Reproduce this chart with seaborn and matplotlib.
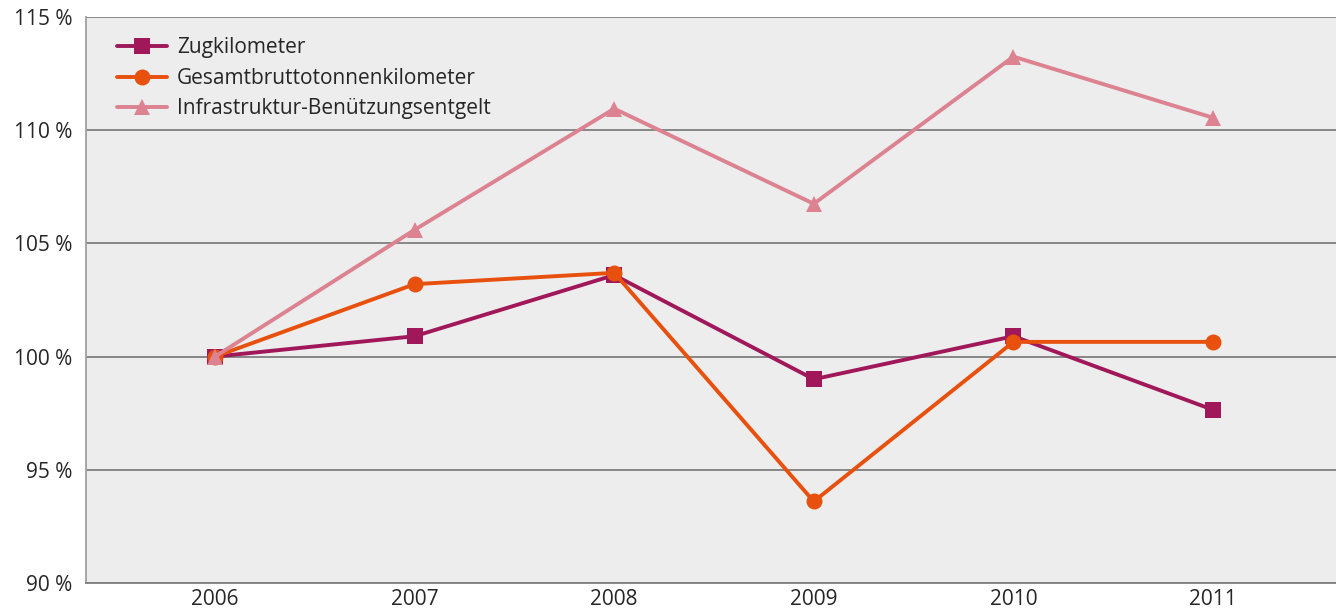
import pandas as pd
import matplotlib.pyplot as plt
import seaborn as sns

# values (index, 2006 = 100 %)
years = [2006, 2007, 2008, 2009, 2010, 2011]
zugkm = [100.0, 100.9, 103.6, 99.0, 100.9, 97.65]
gesamt_btkm = [100.0, 103.2, 103.7, 93.6, 100.65, 100.65]
infra_entgelt = [100.0, 105.6, 110.95, 106.75, 113.25, 110.55]

series_names = ["Zugkilometer", "Gesamtbruttotonnenkilometer",
                "Infrastruktur-Benützungsentgelt"]
y_ticks = [90, 95, 100, 105, 110, 115]

df = pd.DataFrame({
    "Jahr": years * 3,
    "Wert": zugkm + gesamt_btkm + infra_entgelt,
    "Reihe": [series_names[0]] * 6 + [series_names[1]] * 6 + [series_names[2]] * 6,
})

sns.set_style("white")
plt.rcParams["font.family"] = ["Open Sans", "DejaVu Sans"]

palette = {
    series_names[0]: "#A0185A",
    series_names[1]: "#E8500E",
    series_names[2]: "#DC8290",
}
markers = {series_names[0]: "s", series_names[1]: "o", series_names[2]: "^"}

fig = plt.figure(figsize=(13.36, 6.12), dpi=100)
ax = fig.add_axes([0.0644, 0.0474, 0.9356, 0.9248])
ax.set_facecolor("#EDEDED")

sns.lineplot(data=df, x="Jahr", y="Wert", hue="Reihe", style="Reihe",
             palette=palette, markers=markers, dashes=False,
             linewidth=2.8, markersize=11.5, markeredgewidth=0, ax=ax)

ax.set_xlim(2006 - 0.646, 2011 + 0.616)
ax.set_ylim(90, 115)
ax.set_xticks(years)
ax.set_xticklabels([str(y) for y in years])
ax.set_yticks(y_ticks)
ax.set_yticklabels([f"{t} %" for t in y_ticks])

ax.grid(axis="y", color="#7F7F7F", linewidth=1.3)
ax.set_axisbelow(True)
for side in ["top", "right"]:
    ax.spines[side].set_visible(False)
ax.spines["left"].set_color("#A0A0A0")
ax.spines["bottom"].set_color("#7F7F7F")
ax.spines["left"].set_linewidth(1.3)
ax.spines["bottom"].set_linewidth(1.3)

ax.tick_params(axis="y", length=7, width=1.3, color="#7F7F7F",
               labelsize=15, pad=3)
ax.tick_params(axis="x", length=0, labelsize=15, pad=4)
ax.set_xlabel("")
ax.set_ylabel("")

leg = ax.legend(loc="upper left", bbox_to_anchor=(0.0094, 0.997), frameon=False,
                fontsize=15, handlelength=2.4, labelspacing=0.45,
                handletextpad=0.5)

fig.savefig("out.png", dpi=100)
